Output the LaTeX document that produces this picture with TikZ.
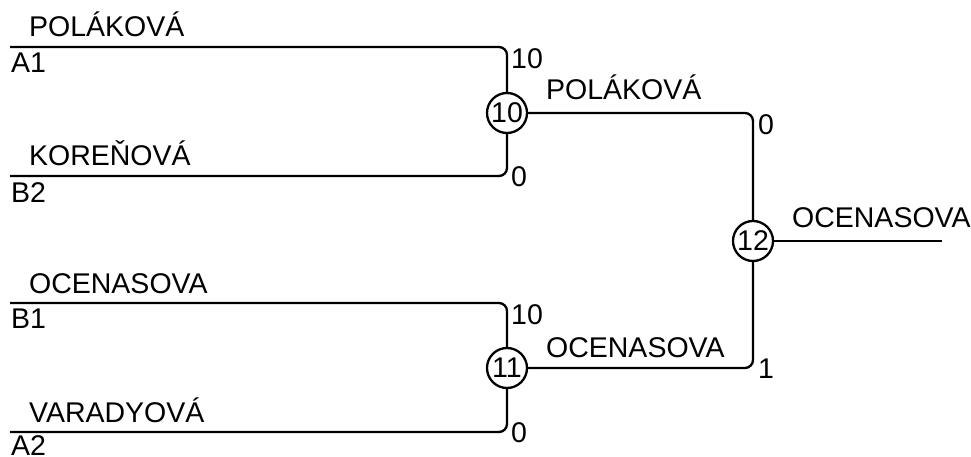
\documentclass[tikz,border=0pt]{standalone}
\usepackage{fontspec}
\setmainfont{Liberation Sans}
\usetikzlibrary{positioning}

\begin{document}
\begin{tikzpicture}[x=1pt,y=-1pt,line width=2.3pt,
  every node/.style={font=\fontsize{28.5}{32}\selectfont,inner sep=0pt},
  match/.style={draw,circle,minimum size=40pt,inner sep=0pt},
  wire/.style={rounded corners=8pt}]
  \useasboundingbox (0,0) rectangle (971,457);
  % matches
  \node[match] (m10) at (507,113) {10};
  \node[match] (m11) at (507,368) {11};
  \node[match] (m12) at (753,241) {12};
  % first round entries
  \foreach \n/\y/\d/\name/\seed in {a1/47/5/POLÁKOVÁ/A1,b2/176/5/KOREŇOVÁ/B2,b1/303/5/OCENASOVA/B1,a2/432/2/VARADYOVÁ/A2}{
    \coordinate (\n) at (10,\y);
    \node[anchor=base west] (\n name) at (28,\y-10) {\name};
    \node[anchor=north west] (\n seed) at (10,\y+\d) {\seed};
  }
  \draw[wire] (a1) -| (m10); \draw[wire] (b2) -| (m10);
  \draw[wire] (b1) -| (m11); \draw[wire] (a2) -| (m11);
  \draw[wire] (m10) -| (m12); \draw[wire] (m11) -| (m12);
  \coordinate (out) at (942,241);
  \draw (m12) -- (out);
  % scores
  \node[anchor=north west] (s1) at (510,47) {10};
  \node[anchor=west] (s2) at (510,177) {0};
  \node[anchor=north west] (s3) at (510,303) {10};
  \node[anchor=west] (s4) at (510,433) {0};
  \node[anchor=north west] (s5) at (757,113) {0};
  \node[anchor=west] (s6) at (757,369) {1};
  % winners
  \node[anchor=base west] (w10) at (545,100) {POLÁKOVÁ};
  \node[anchor=base west] (w11) at (545,357) {OCENASOVA};
  \node[anchor=base west] (w12) at (791,227) {OCENASOVA};
\end{tikzpicture}
\end{document}
